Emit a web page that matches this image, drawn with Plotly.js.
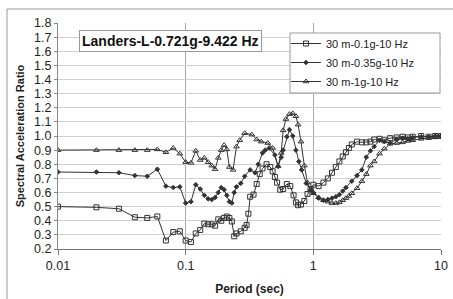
<!DOCTYPE html>
<html>
<head>
<meta charset="utf-8">
<script src="https://cdn.plot.ly/plotly-3.0.1.min.js"></script>
<style>
html,body{margin:0;padding:0;background:#fff;}
#chart{width:453px;height:299px;}
</style>
</head>
<body>
<div id="chart"></div>
<script>
// Series names
const seriesNames = ["30 m-0.1g-10 Hz", "30 m-0.35g-10 Hz", "30 m-1g-10 Hz"];
const chartTitle = "Landers-L-0.721g-9.422 Hz";

// 30 m-0.1g-10 Hz (squares)
const periodA = [0.01,0.02,0.03,0.04,0.05,0.06,0.07,0.08,0.09,0.10,0.11,0.12,0.13,0.14,0.15,0.16,0.17,0.18,0.19,0.20,0.21,0.22,0.23,0.24,0.25,0.27,0.29,0.30,0.31,0.32,0.34,0.36,0.38,0.40,0.43,0.46,0.48,0.50,0.52,0.55,0.58,0.62,0.66,0.70,0.73,0.76,0.80,0.85,0.90,0.95,1.0,1.1,1.2,1.3,1.4,1.5,1.6,1.7,1.8,1.9,2.0,2.2,2.4,2.6,2.8,3.0,3.3,3.6,4.0,4.5,5,5.5,6,7,8,9,10];
const ratioA = [0.50,0.495,0.485,0.425,0.42,0.43,0.26,0.32,0.325,0.26,0.25,0.31,0.335,0.38,0.375,0.375,0.365,0.41,0.40,0.42,0.43,0.42,0.395,0.29,0.31,0.325,0.35,0.37,0.45,0.57,0.585,0.66,0.73,0.77,0.80,0.78,0.75,0.71,0.67,0.62,0.625,0.66,0.645,0.58,0.53,0.51,0.515,0.54,0.59,0.625,0.655,0.645,0.67,0.70,0.74,0.78,0.82,0.855,0.885,0.915,0.94,0.96,0.955,0.955,0.96,0.975,0.98,0.97,0.985,0.99,0.995,0.99,0.995,1.0,0.995,1.0,1.0];

// 30 m-0.35g-10 Hz (diamonds)
const periodB = [0.01,0.02,0.03,0.04,0.05,0.06,0.07,0.08,0.09,0.10,0.11,0.12,0.13,0.14,0.15,0.16,0.17,0.18,0.19,0.20,0.21,0.22,0.23,0.24,0.25,0.27,0.29,0.32,0.35,0.37,0.40,0.42,0.45,0.50,0.53,0.56,0.58,0.62,0.65,0.69,0.73,0.77,0.81,0.88,0.96,1.0,1.1,1.2,1.3,1.4,1.5,1.6,1.7,1.8,2.0,2.2,2.4,2.6,2.8,3.0,3.3,3.6,4.0,4.5,5,5.5,6,7,8,9,10];
const ratioB = [0.745,0.745,0.74,0.72,0.715,0.765,0.645,0.635,0.64,0.525,0.535,0.655,0.625,0.58,0.555,0.55,0.565,0.60,0.635,0.62,0.58,0.535,0.525,0.60,0.64,0.665,0.715,0.76,0.74,0.80,0.88,0.90,0.915,0.865,0.785,0.85,0.90,0.995,1.045,1.0,0.90,0.82,0.76,0.665,0.62,0.60,0.56,0.545,0.55,0.56,0.57,0.585,0.61,0.635,0.68,0.72,0.76,0.85,0.895,0.925,0.97,0.96,0.95,0.975,0.985,0.98,0.99,0.995,0.995,1.0,1.0];

// 30 m-1g-10 Hz (triangles)
const periodC = [0.01,0.02,0.03,0.04,0.05,0.06,0.07,0.08,0.09,0.10,0.11,0.12,0.13,0.14,0.15,0.16,0.17,0.18,0.19,0.20,0.21,0.22,0.235,0.25,0.265,0.29,0.33,0.36,0.39,0.44,0.48,0.53,0.56,0.58,0.61,0.65,0.69,0.73,0.76,0.80,0.85,0.90,0.95,1.0,1.1,1.2,1.3,1.4,1.5,1.6,1.7,1.8,1.9,2.0,2.2,2.4,2.6,2.8,3.0,3.3,3.6,4.0,4.5,5,5.5,6,7,8,9,10];
const ratioC = [0.90,0.90,0.90,0.90,0.90,0.905,0.885,0.915,0.875,0.815,0.81,0.895,0.83,0.845,0.815,0.79,0.765,0.845,0.90,0.935,0.905,0.78,0.76,0.925,0.97,1.02,1.01,0.975,0.96,0.95,0.915,0.785,0.88,1.04,1.12,1.155,1.16,1.14,1.08,0.96,0.79,0.67,0.615,0.595,0.565,0.545,0.535,0.525,0.525,0.53,0.545,0.56,0.575,0.595,0.63,0.68,0.73,0.79,0.82,0.875,0.91,0.945,0.95,0.955,0.965,0.97,0.98,0.985,0.99,1.0];

// Axis ticks
const xTickVals = [0.01, 0.1, 1, 10];
const xTickText = ["0.01", "0.1", "1", "10"];

const lineCol = "#333333";
const font = "Liberation Sans, Arial, sans-serif";

function mk(x, y, name, symbol, size) {
  return {
    x: x, y: y, name: name, type: "scatter", mode: "lines+markers",
    line: {color: lineCol, width: 1},
    marker: {symbol: symbol, size: size, color: lineCol, line: {color: lineCol, width: 1}}
  };
}

const traces = [
  mk(periodA, ratioA, seriesNames[0], "square-open", 5),
  mk(periodB, ratioB, seriesNames[1], "diamond", 3.5),
  mk(periodC, ratioC, seriesNames[2], "triangle-up-open", 5)
];

const W = 453, H = 299, L = 58, R = 441, T = 23, B = 249;
const px = v => (v - L) / (R - L);
const py = v => 1 - (v - T) / (B - T);

const layout = {
  width: W, height: H,
  margin: {l: L, r: W - R, t: T, b: H - B},
  paper_bgcolor: "#fff", plot_bgcolor: "#fff",
  font: {family: font, size: 12, color: "#222"},
  showlegend: true,
  xaxis: {
    type: "log", range: [-2, 1],
    tickvals: xTickVals, ticktext: xTickText,
    showgrid: true, gridcolor: "#a8a8a8", gridwidth: 1,
    showline: true, linecolor: "#777", linewidth: 1,
    ticks: "outside", ticklen: 5, tickcolor: "#777",
    tickfont: {size: 12.5, color: "#222"},
    zeroline: false,
    title: {text: "<b>Period (sec)</b>", font: {size: 12, color: "#222"}, standoff: 12}
  },
  yaxis: {
    range: [0.2, 1.8], dtick: 0.1, tick0: 0.2, tickformat: ".1f",
    showgrid: true, gridcolor: "#d0d0d0", gridwidth: 1,
    showline: true, linecolor: "#888", linewidth: 1,
    ticks: "outside", ticklen: 3, tickcolor: "#888",
    tickfont: {size: 12.5, color: "#222"},
    zeroline: false,
    title: {text: "<b>Spectral Acceleration Ratio</b>", font: {size: 11, color: "#222"}, standoff: 7}
  },
  legend: {
    x: px(286), y: py(29), xanchor: "left", yanchor: "top",
    bgcolor: "rgba(0,0,0,0)", borderwidth: 0,
    font: {size: 11, color: "#222"},
    traceorder: "normal"
  },
  shapes: [
    {type: "rect", xref: "paper", yref: "paper", x0: px(290), x1: px(440), y0: py(33), y1: py(93),
     line: {color: "#999", width: 1}, fillcolor: "#fff", layer: "above"},
    {type: "line", xref: "paper", yref: "paper", x0: px(7), x1: px(460), y0: py(9), y1: py(9),
     line: {color: "#999", width: 1}},
    {type: "line", xref: "paper", yref: "paper", x0: px(7), x1: px(7), y0: py(9), y1: py(310),
     line: {color: "#999", width: 1}}
  ],
  annotations: [
    {text: "<b>" + chartTitle + "</b>", xref: "paper", yref: "paper",
     x: px(170), y: py(41), xanchor: "center", yanchor: "middle", showarrow: false,
     font: {size: 14, color: "#111"}, bgcolor: "#fff", bordercolor: "#999", borderwidth: 1, borderpad: 2}
  ]
};

Plotly.newPlot("chart", traces, layout, {displayModeBar: false, staticPlot: true});
</script>
</body>
</html>
